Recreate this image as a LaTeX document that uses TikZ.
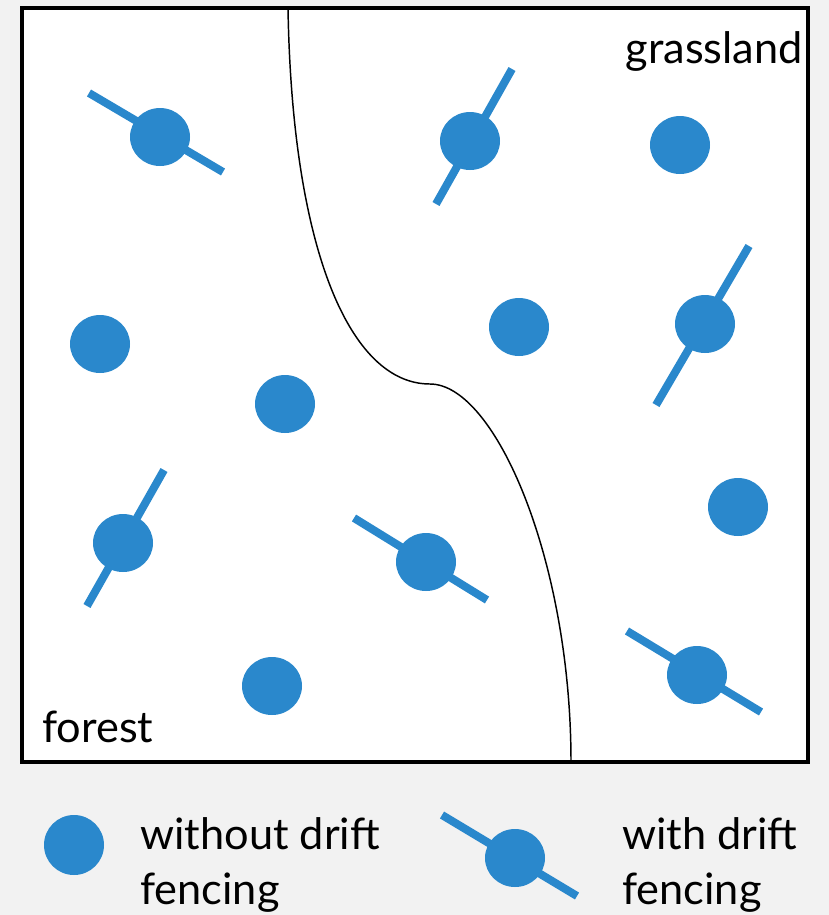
\documentclass[tikz,border=0pt]{standalone}
\usepackage{fontspec}
\setmainfont{Lato}
\usetikzlibrary{shapes.geometric}
\definecolor{dotblue}{HTML}{2A88CC}
\definecolor{pagegray}{HTML}{F2F2F2}
\tikzset{
  dot/.style={ellipse, fill=dotblue, draw=none, inner sep=0pt,
              minimum width=60*0.75pt, minimum height=58*0.75pt},
  fence/.style={draw=dotblue, line width=8*0.75pt, line cap=butt},
  label/.style={inner sep=0pt, font=\fontsize{32.5}{41}\selectfont},
}
\begin{document}
\begin{tikzpicture}[x=0.75pt, y=-0.75pt]
  % page and field
  \fill[pagegray] (0,0) rectangle (829,915);
  \draw[fill=white, line width=2.3pt] (22,8) rectangle (808,762);
  % forest / grassland boundary
  \draw[line width=1.1pt] (288,8) .. controls (292,250) and (350,384) .. (430,384)
                                  .. controls (495,384) and (571,560) .. (571,762);

  % fences (drawn under the dots)
  \draw[fence] (89,93) -- (223,172);
  \draw[fence] (512,69) -- (436,204);
  \draw[fence] (749,246) -- (656,405);
  \draw[fence] (164,470) -- (87,606);
  \draw[fence] (354,518) -- (487,600);
  \draw[fence] (627,631) -- (761,712);

  % dots
  \node[dot] (d1)  at (160,137) {};
  \node[dot] (d2)  at (470,141) {};
  \node[dot] (d3)  at (680,145) {};
  \node[dot] (d4)  at (100,344) {};
  \node[dot] (d5)  at (519,327) {};
  \node[dot] (d6)  at (705,324) {};
  \node[dot] (d7)  at (285,404) {};
  \node[dot] (d8)  at (123,543) {};
  \node[dot] (d9)  at (426,562) {};
  \node[dot] (d10) at (738,507) {};
  \node[dot] (d11) at (272,686) {};
  \node[dot] (d12) at (697,675) {};

  % region labels
  \node[label, anchor=base east] (grass) at (803,63) {grassland};
  \node[label, anchor=base west] (forest) at (42,742) {forest};

  % legend
  \node[dot, minimum width=60*0.75pt, minimum height=60*0.75pt] (k1) at (74,845) {};
  \draw[fence] (442,815) -- (577,896);
  \node[dot] (k2) at (515,858) {};
  \node[label, anchor=base west, align=left] (t1) at (140,904) {without drift\\fencing};
  \node[label, anchor=base west, align=left] (t2) at (622,904) {with drift\\fencing};
\end{tikzpicture}
\end{document}
